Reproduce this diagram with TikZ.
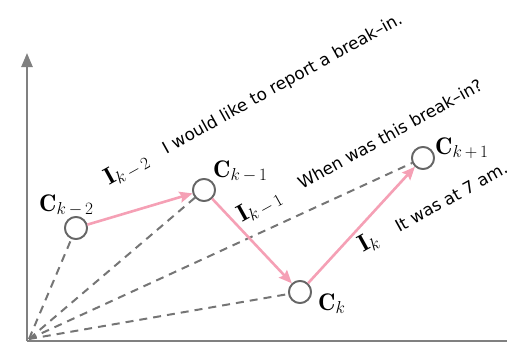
\documentclass[tikz,border=0pt]{standalone}
\usepackage{fontspec}
\newfontfamily\sentfont{DejaVu Sans}
\usetikzlibrary{arrows.meta}
\definecolor{axgray}{HTML}{808080}
\definecolor{dgray}{HTML}{757575}
\definecolor{cgray}{HTML}{666666}
\definecolor{pinkarrow}{HTML}{F5A0B5}
\tikzset{
  axisline/.style={draw=axgray, line width=2.4pt},
  state/.style={circle, draw=cgray, fill=white, line width=1.8pt, minimum size=22pt, inner sep=0pt},
  dashline/.style={draw=dgray, line width=2pt, dash pattern=on 8pt off 6pt},
  transition/.style={draw=pinkarrow, line width=2.6pt, -{Stealth[length=13pt,width=11pt,inset=2pt]}},
  statelabel/.style={anchor=base west, inner sep=0pt},
  utter/.style={anchor=base west, inner sep=0pt, rotate=29}
}
\newcommand{\mth}[1]{{\fontsize{24}{26}\selectfont$#1$}}
\newcommand{\sent}[1]{{\sentfont\fontsize{16.8}{20}\selectfont #1}}
\begin{document}
\begin{tikzpicture}[x=1pt,y=-1pt]
\useasboundingbox (0,0) rectangle (507,346);
% axes
\coordinate (origin) at (27,341);
\coordinate (ytop) at (27,53);
\coordinate (xend) at (507,341);
\draw[axisline, -{Triangle[length=14pt,width=11pt]}] (origin) -- (ytop);
\draw[axisline] (origin) -- (xend);
\coordinate (dorigin) at (29,339);
% states
\node[state] (c2) at (76,228) {};
\node[state] (c1) at (204,190) {};
\node[state] (c0) at (300,292) {};
\node[state] (cp) at (423,158) {};
% dashed lines
\draw[dashline] (dorigin) -- (c2);
\draw[dashline] (dorigin) -- (c1);
\draw[dashline] (dorigin) -- (c0);
\draw[dashline] (dorigin) -- (cp);
% redraw circles on top
\node[state] at (c2) {};
\node[state] at (c1) {};
\node[state] at (c0) {};
\node[state] at (cp) {};
% transitions
\draw[transition] (c2) -- (c1);
\draw[transition] (c1) -- (c0);
\draw[transition] (c0) -- (cp);
% state labels
\node[statelabel] (l2) at (39,211) {\mth{\mathbf{C}_{k\,-\,2}}};
\node[statelabel] (l1) at (213,177) {\mth{\mathbf{C}_{k\,-\,1}}};
\node[statelabel] (l0) at (318,310) {\mth{\mathbf{C}_{k}}};
\node[statelabel] (lp) at (435,154) {\mth{\mathbf{C}_{k\,+\,1}}};
% utterances
\node[utter] (u2) at (109,186) {\mth{\mathbf{I}_{k\,-\,2}}\hspace{19pt}\sent{I would like to report a break–in.}};
\node[utter] (u1) at (242,223) {\mth{\mathbf{I}_{k\,-\,1}}\hspace{22pt}\sent{When was this break–in?}};
\node[utter] (u0) at (363,253) {\mth{\mathbf{I}_{k}}\hspace{22pt}\sent{It was at 7 am.}};
\end{tikzpicture}
\end{document}
